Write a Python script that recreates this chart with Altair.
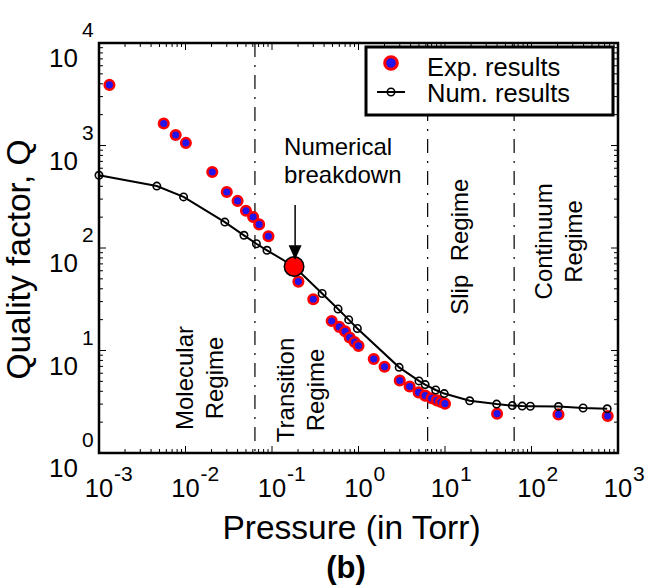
import altair as alt
import pandas as pd

# ---------------- data ----------------
exp_pressure = [0.00132, 0.0056, 0.0077, 0.0101, 0.0204, 0.030, 0.040, 0.050, 0.0605, 0.071, 0.091,
                0.202, 0.30, 0.49, 0.60, 0.70, 0.79, 0.90, 1.0, 1.5, 2.0, 3.0, 3.9, 4.95, 5.9, 7.0,
                8.05, 9.0, 10.0, 40, 205, 760]
exp_q = [3900, 1640, 1265, 1060, 552, 352, 288, 231, 201, 170, 130,
         47, 31.6, 19.4, 17.0, 15.4, 13.4, 12.1, 11.1, 8.25, 6.95, 5.1, 4.45, 3.9, 3.63, 3.42,
         3.26, 3.15, 3.03, 2.42, 2.38, 2.30]
num_pressure = [0.001, 0.00466, 0.0095, 0.0285, 0.0474, 0.066, 0.0875, 0.18, 0.38, 0.58, 0.77, 0.97,
                2.95, 5.0, 5.9, 7.8, 9.8, 19.3, 39.5, 60, 78, 97, 205, 395, 750]
num_q = [512, 402, 315, 179, 133, 110, 95, 66, 36, 25.4, 20, 16.4,
         6.85, 5.05, 4.65, 4.12, 3.8, 3.23, 3.0, 2.9, 2.87, 2.86, 2.84, 2.75, 2.7]
breakdown_p = [0.18]
breakdown_q = [66]
arrow_p = [0.185]
arrow_top_q = [263]
arrow_base_q = [105]
arrow_tip_q = [77]
regime_bounds = [0.0635, 6.3, 63]
regime_text = ["Molecular\nRegime", "Transition\nRegime", "Slip\u00a0\u00a0Regime", "Continuum\nRegime"]
regime_p = [0.0101, 0.149, 15.2, 145]
regime_q = [5.39, 4.12, 103, 116]
note_text = ["Numerical\nbreakdown"]
note_p = [0.138]
note_q = [807]
x_tick_exp = ["-3", "-2", "-1", "0", "1", "2", "3"]
x_major = [1e-3, 1e-2, 1e-1, 1e0, 1e1, 1e2, 1e3]
y_tick_exp = ["0", "1", "2", "3", "4"]
y_major = [1e0, 1e1, 1e2, 1e3, 1e4]
minor_mult = [2, 3, 4, 5, 6, 7, 8, 9]
legend_labels = ["Exp. results", "Num. results"]

# ---------------- styling ----------------
FONT = "Liberation Sans"
BLUE = "#2414ec"
RED = "#ff0000"
W, H = 519, 410

xs = alt.Scale(type="log", domain=[1e-3, 1e3], nice=False)
ys = alt.Scale(type="log", domain=[1, 1e4], nice=False)
xaxis = alt.Axis(title="Pressure (in Torr)", labels=False, ticks=False, domain=False, grid=False,
                 titleFont=FONT, titleFontSize=33.5, titleFontWeight="normal", titleColor="black",
                 titleX=252, titleY=85, titleAlign="center", titleBaseline="alphabetic")
yaxis = alt.Axis(title="Quality factor, Q", labels=False, ticks=False, domain=False, grid=False,
                 titleFont=FONT, titleFontSize=33.5, titleFontWeight="normal", titleColor="black",
                 titleX=-70, titleY=216, titleAngle=270, titleAlign="center",
                 titleBaseline="alphabetic")


def X(f="p"):
    return alt.X(f"{f}:Q", scale=xs, axis=xaxis)


def Y(f="q"):
    return alt.Y(f"{f}:Q", scale=ys, axis=yaxis)


one = pd.DataFrame({"a": [0]})
layers = []

# regime boundaries (dash-dot)
layers.append(alt.Chart(pd.DataFrame({"p": regime_bounds})).mark_rule(
    color="black", strokeWidth=1.2, strokeDash=[14, 8, 2, 8]).encode(x=X()))

# inward ticks on all four sides
x_minor = [m * v for v in x_major[:-1] for m in minor_mult]
y_minor = [m * v for v in y_major[:-1] for m in minor_mult]
for vals, L in ((x_major, 7), (x_minor, 4)):
    d = pd.DataFrame({"p": vals})
    layers.append(alt.Chart(d).mark_rule(color="black", strokeWidth=1).encode(
        x=X(), y=alt.value(H), y2=alt.value(H - L)))
    layers.append(alt.Chart(d).mark_rule(color="black", strokeWidth=1).encode(
        x=X(), y=alt.value(0), y2=alt.value(L)))
for vals, L in ((y_major, 7), (y_minor, 4)):
    d = pd.DataFrame({"q": vals})
    layers.append(alt.Chart(d).mark_rule(color="black", strokeWidth=1).encode(
        y=Y(), x=alt.value(0), x2=alt.value(L)))
    layers.append(alt.Chart(d).mark_rule(color="black", strokeWidth=1).encode(
        y=Y(), x=alt.value(W), x2=alt.value(W - L)))

# experimental results
exp_df = pd.DataFrame({"p": exp_pressure, "q": exp_q})
layers.append(alt.Chart(exp_df).mark_point(
    shape="circle", filled=True, fill=BLUE, stroke=RED, strokeWidth=2.5, size=92, opacity=1
).encode(x=X(), y=Y()))

# numerical results
num_df = pd.DataFrame({"p": num_pressure, "q": num_q})
layers.append(alt.Chart(num_df).mark_line(color="black", strokeWidth=2).encode(x=X(), y=Y()))
layers.append(alt.Chart(num_df).mark_point(
    shape="circle", filled=False, color="black", strokeWidth=1.6, size=55, opacity=1
).encode(x=X(), y=Y()))

# numerical breakdown marker + arrow
layers.append(alt.Chart(pd.DataFrame({"p": breakdown_p, "q": breakdown_q})).mark_point(
    shape="circle", filled=True, fill=RED, stroke="black", strokeWidth=1.5, size=380, opacity=1
).encode(x=X(), y=Y()))
layers.append(alt.Chart(pd.DataFrame({"p": arrow_p, "q": arrow_top_q, "q2": arrow_base_q})).mark_rule(
    color="black", strokeWidth=1.5).encode(x=X(), y=Y(), y2="q2:Q"))
layers.append(alt.Chart(pd.DataFrame({"p": arrow_p, "q": arrow_tip_q})).mark_point(
    shape="M-1,-2.2L1,-2.2L0,0Z", filled=True, color="black", size=169, opacity=1
).encode(x=X(), y=Y()))

# annotations
layers.append(alt.Chart(pd.DataFrame({"p": note_p, "q": note_q, "t": note_text})).mark_text(
    align="left", baseline="alphabetic", lineBreak="\n", lineHeight=28, fontSize=24, font=FONT,
    color="black").encode(x=X(), y=Y(), text="t:N"))
layers.append(alt.Chart(pd.DataFrame({"p": regime_p, "q": regime_q, "t": regime_text})).mark_text(
    angle=270, align="center", baseline="middle", lineBreak="\n", lineHeight=30, fontSize=24,
    font=FONT, color="black").encode(x=X(), y=Y(), text="t:N"))

# tick labels: "10" with exponent
xl = pd.DataFrame({"p": x_major, "base": ["10"] * len(x_major), "ex": x_tick_exp})
layers.append(alt.Chart(xl).mark_text(align="center", baseline="alphabetic", dy=44, fontSize=25.5,
                                      font=FONT, color="black").encode(
    x=X(), y=alt.value(H), text="base:N"))
layers.append(alt.Chart(xl).mark_text(align="left", baseline="alphabetic", dx=15, dy=28, fontSize=21,
                                      font=FONT, color="black").encode(
    x=X(), y=alt.value(H), text="ex:N"))
yl = pd.DataFrame({"q": y_major, "base": ["10"] * len(y_major), "ex": y_tick_exp})
layers.append(alt.Chart(yl).mark_text(align="right", baseline="alphabetic", dx=-21, dy=24, fontSize=26,
                                      font=FONT, color="black").encode(
    y=Y(), x=alt.value(0), text="base:N"))
layers.append(alt.Chart(yl).mark_text(align="left", baseline="alphabetic", dx=-17, dy=-6, fontSize=21,
                                      font=FONT, color="black").encode(
    y=Y(), x=alt.value(0), text="ex:N"))

# legend
layers.append(alt.Chart(one).mark_rect(fill="white", stroke="black", strokeWidth=3).encode(
    x=alt.value(267), x2=alt.value(514), y=alt.value(4), y2=alt.value(72)))
layers.append(alt.Chart(one).mark_point(
    shape="circle", filled=True, fill=BLUE, stroke=RED, strokeWidth=3, size=160, opacity=1
).encode(x=alt.value(292), y=alt.value(20)))
layers.append(alt.Chart(one).mark_rule(color="black", strokeWidth=2).encode(
    x=alt.value(278), x2=alt.value(306), y=alt.value(49)))
layers.append(alt.Chart(one).mark_point(
    shape="circle", filled=False, color="black", strokeWidth=1.6, size=55, opacity=1
).encode(x=alt.value(292), y=alt.value(49)))
layers.append(alt.Chart(pd.DataFrame({"t": legend_labels, "y": [33, 59]})).mark_text(
    align="left", baseline="alphabetic", fontSize=25.5, font=FONT, color="black").encode(
    x=alt.value(328), y=alt.Y("y:Q", scale=None), text="t:N"))

# panel caption
layers.append(alt.Chart(one).mark_text(
    align="center", baseline="alphabetic", fontSize=31, fontWeight="bold", font=FONT, color="black"
).encode(x=alt.value(247), y=alt.value(535), text=alt.value("(b)")))

chart = alt.layer(*layers).properties(
    width=W, height=H,
    autosize=alt.AutoSizeParams(type="none"),
    padding={"left": 99, "top": 43, "right": 48, "bottom": 132},
    background="white",
).configure_view(stroke="black", strokeWidth=2.5)

chart.save("out.html", embed_options={"renderer": "svg", "actions": False})
